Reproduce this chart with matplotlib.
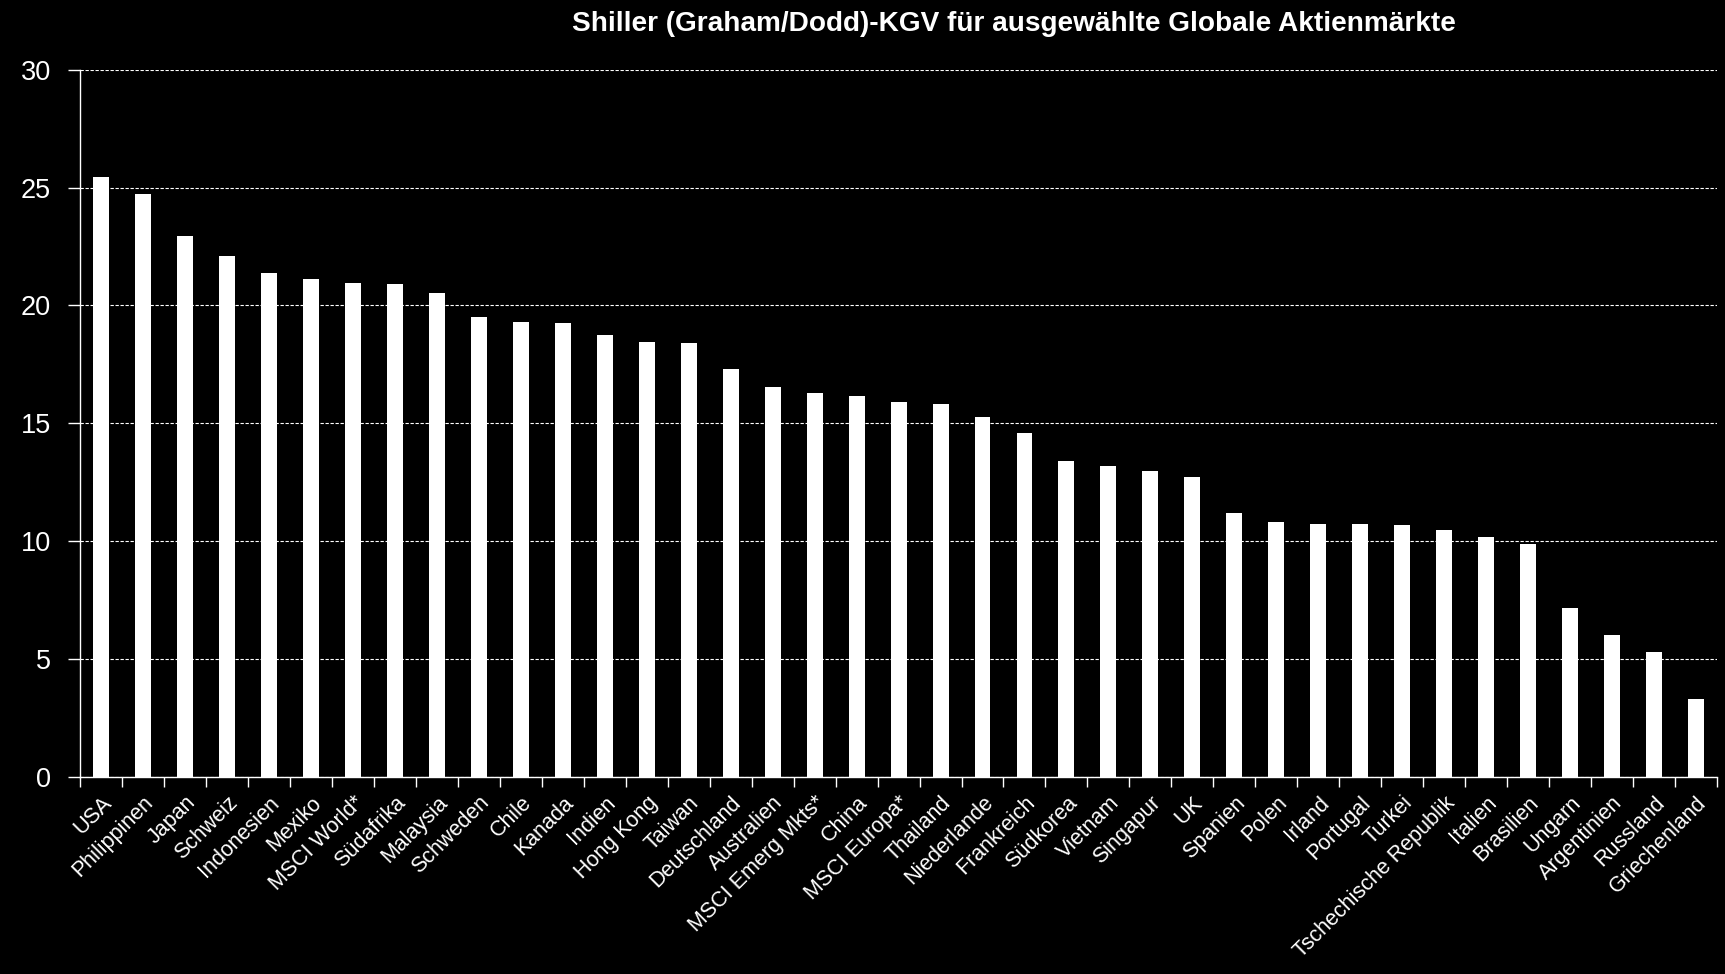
import numpy as np
import matplotlib
matplotlib.use("Agg")
from matplotlib import pyplot as plt
from matplotlib.ticker import FixedLocator

plt.rcParams["font.family"] = ["Liberation Sans", "DejaVu Sans"]

# Shiller-KGV per market
markets = [
    "USA", "Philippinen", "Japan", "Schweiz", "Indonesien", "Mexiko",
    "MSCI World*", "Südafrika", "Malaysia", "Schweden", "Chile", "Kanada",
    "Indien", "Hong Kong", "Taiwan", "Deutschland", "Australien",
    "MSCI Emerg Mkts*", "China", "MSCI Europa*", "Thailand", "Niederlande",
    "Frankreich", "Südkorea", "Vietnam", "Singapur", "UK", "Spanien", "Polen",
    "Irland", "Portugal", "Turkei", "Tschechische Republik", "Italien",
    "Brasilien", "Ungarn", "Argentinien", "Russland", "Griechenland",
]
cape = [
    25.46, 24.73, 22.95, 22.10, 21.38, 21.13, 20.96, 20.92, 20.53, 19.52,
    19.30, 19.26, 18.75, 18.46, 18.41, 17.31, 16.55, 16.29, 16.16, 15.90,
    15.83, 15.27, 14.59, 13.41, 13.19, 12.98, 12.73, 11.20, 10.82, 10.73,
    10.73, 10.69, 10.48, 10.18, 9.90, 7.17, 6.02, 5.30, 3.31,
]
yticks = [0, 5, 10, 15, 20, 25, 30]
title = "Shiller (Graham/Dodd)-KGV für ausgewählte Globale Aktienmärkte"

fig = plt.figure(figsize=(17.25, 9.74), dpi=100, facecolor="black")
ax = fig.add_axes([0.0464, 0.2023, 0.9490, 0.7261], facecolor="black")

x = np.arange(len(markets))
ax.bar(x, cape, width=0.38, color="white", zorder=3)

ax.set_xlim(-0.5, len(markets) - 0.5)
ax.set_ylim(0, 30)
ax.set_yticks(yticks)
ax.set_yticklabels([str(t) for t in yticks])
ax.yaxis.grid(True, color="white", linestyle=(0, (3, 1.5)), linewidth=0.8, zorder=1)

# category labels at bar centres, tick marks between categories
ax.set_xticks(x)
ax.set_xticklabels(markets, rotation=45, ha="right", va="top", rotation_mode="anchor")
ax.xaxis.set_minor_locator(FixedLocator(np.arange(len(markets) + 1) - 0.5))
ax.tick_params(axis="x", which="major", length=0, pad=11, labelsize=15.5, colors="white")
ax.tick_params(axis="x", which="minor", length=7, width=1, color="white", direction="out")
ax.tick_params(axis="y", length=9, width=1, color="white", labelsize=19.5,
               labelcolor="white", pad=12)

for side in ["top", "right"]:
    ax.spines[side].set_visible(False)
for side in ["left", "bottom"]:
    ax.spines[side].set_color("white")
    ax.spines[side].set_linewidth(1)

fig.text(0.588, 0.975, title, color="white", fontsize=20.2, fontweight="bold",
         ha="center", va="center")

fig.savefig("out.png", dpi=100, facecolor="black")
